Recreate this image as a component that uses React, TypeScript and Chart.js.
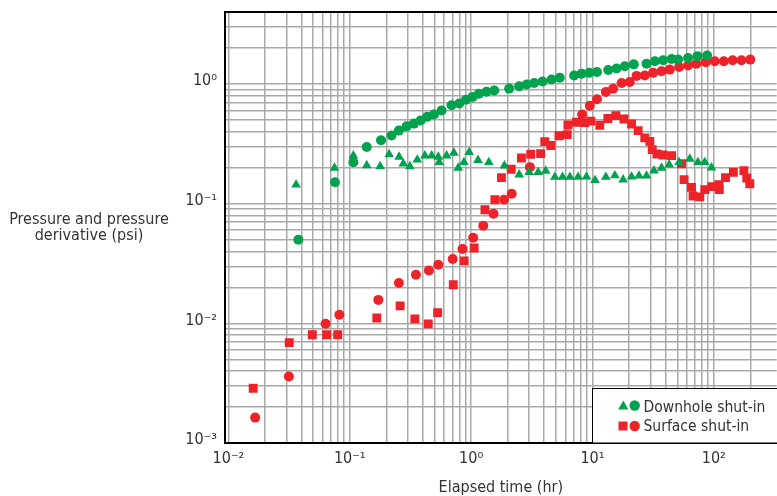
import React, { useEffect, useRef } from 'react';
import { Chart, registerables } from 'chart.js';

Chart.register(...registerables);

// ---- axis ticks ----
const xDecades = [0.01, 0.1, 1, 10, 100];
const xTickLabels = ['10⁻²', '10⁻¹', '10⁰', '10¹', '10²'];
const yDecades = [0.001, 0.01, 0.1, 1];
const yTickLabels = ['10⁻³', '10⁻²', '10⁻¹', '10⁰'];
const minorSteps = [1, 2, 3, 4, 5, 6, 7, 8, 9];

const xTitle = 'Elapsed time (hr)';
const yTitleLines = ['Pressure and pressure', 'derivative (psi)'];
const legendLabels = ['Downhole shut-in', 'Surface shut-in'];

// ---- data: [elapsed time (hr), psi] ----
const downholePressure: [number, number][] = [
  [0.0377, 0.05], [0.0755, 0.151], [0.107, 0.222], [0.138, 0.298], [0.181, 0.339],
  [0.221, 0.371], [0.254, 0.408], [0.294, 0.443], [0.338, 0.467], [0.384, 0.495],
  [0.435, 0.532], [0.494, 0.556], [0.571, 0.6], [0.69, 0.665], [0.798, 0.687],
  [0.906, 0.738], [1.03, 0.781], [1.16, 0.83], [1.34, 0.861], [1.55, 0.883],
  [2.06, 0.916], [2.49, 0.959], [2.87, 0.99], [3.31, 1.02], [3.88, 1.05],
  [4.6, 1.09], [5.38, 1.13], [7.06, 1.18], [8.13, 1.22], [9.4, 1.24],
  [10.9, 1.26], [13.5, 1.31], [15.8, 1.35], [18.5, 1.41], [21.9, 1.46],
  [27.9, 1.48], [32.7, 1.55], [38.2, 1.58], [44.9, 1.62], [50.8, 1.6],
  [61.4, 1.65], [73.4, 1.71], [88.1, 1.73],
];

const downholeDerivative: [number, number][] = [
  [0.0361, 0.144], [0.0748, 0.199], [0.107, 0.252], [0.138, 0.209], [0.178, 0.205],
  [0.211, 0.258], [0.255, 0.246], [0.276, 0.216], [0.313, 0.205], [0.36, 0.233],
  [0.416, 0.252], [0.473, 0.252], [0.536, 0.246], [0.546, 0.222], [0.628, 0.252],
  [0.721, 0.266], [0.783, 0.199], [0.873, 0.222], [0.964, 0.269], [1.14, 0.231],
  [1.4, 0.222], [1.88, 0.208], [2.49, 0.175], [3.01, 0.183], [3.57, 0.183],
  [4.12, 0.188], [4.9, 0.167], [5.67, 0.167], [6.52, 0.167], [7.62, 0.167],
  [8.93, 0.168], [10.5, 0.157], [12.9, 0.167], [15.3, 0.172], [17.9, 0.159],
  [21.0, 0.168], [24.2, 0.171], [27.9, 0.171], [32.1, 0.189], [37.1, 0.199],
  [42.9, 0.212], [51.8, 0.222], [63.4, 0.237], [74.0, 0.222], [84.3, 0.222],
  [95.7, 0.2],
];

const surfacePressure: [number, number][] = [
  [0.0166, 0.00163], [0.0315, 0.00359], [0.0632, 0.00991], [0.0821, 0.0118], [0.172, 0.0157],
  [0.254, 0.0217], [0.351, 0.0255], [0.449, 0.0277], [0.536, 0.0309], [0.705, 0.0345],
  [0.85, 0.0418], [1.04, 0.052], [1.26, 0.0655], [1.53, 0.0824], [1.87, 0.108],
  [2.16, 0.121], [3.05, 0.202], [8.22, 0.556], [9.52, 0.658], [10.9, 0.745],
  [12.9, 0.858], [14.8, 0.912], [17.4, 1.02], [20.3, 1.04], [23.1, 1.17],
  [27.0, 1.18], [31.6, 1.24], [37.1, 1.28], [43.4, 1.32], [51.8, 1.39],
  [61.4, 1.43], [71.9, 1.48], [85.9, 1.52], [102, 1.55], [121, 1.55],
  [143, 1.58], [169, 1.58], [200, 1.6],
];

const surfaceDerivative: [number, number][] = [
  [0.016, 0.00287], [0.0317, 0.0069], [0.0491, 0.00802], [0.0645, 0.00802], [0.0795, 0.00802],
  [0.167, 0.0111], [0.26, 0.014], [0.344, 0.0109], [0.443, 0.0099], [0.53, 0.0123],
  [0.713, 0.021], [0.877, 0.0333], [1.06, 0.0426], [1.3, 0.0891], [1.57, 0.108],
  [1.78, 0.165], [2.14, 0.194], [2.6, 0.241], [3.1, 0.259], [3.74, 0.262],
  [4.05, 0.33], [4.54, 0.306], [5.3, 0.37], [6.2, 0.378], [6.28, 0.455],
  [7.39, 0.479], [8.65, 0.476], [9.7, 0.49], [11.5, 0.452], [13.4, 0.515],
  [15.6, 0.545], [18.2, 0.51], [21.0, 0.463], [23.8, 0.408], [27.0, 0.355],
  [29.7, 0.332], [31.1, 0.283], [34.0, 0.26], [38.2, 0.255], [44.9, 0.252],
  [54.2, 0.216], [56.9, 0.159], [65.5, 0.137], [67.5, 0.116], [76.7, 0.114],
  [84.3, 0.131], [96.2, 0.139], [110, 0.144], [111, 0.131], [125, 0.165],
  [145, 0.183], [177, 0.189], [187, 0.164], [198, 0.147],
];

// ---- styles ----
const GREEN = '#00A24E';
const RED = '#EE2229';
const GRID = '#a9a9a9';
const TEXT = '#333333';
const FONT = '"Liberation Sans Narrow", "Arial Narrow", "DejaVu Sans Condensed", sans-serif';

const X_MIN = 0.00937;
const X_MAX = 330;
const Y_MIN = 0.001;
const Y_MAX = 4.0;

function buildTicks(decades: number[], min: number, max: number) {
  const out: { value: number }[] = [];
  decades.forEach((d) =>
    minorSteps.forEach((m) => {
      const v = +(d * m).toPrecision(6);
      if (v >= min && v < max * 0.9) out.push({ value: v });
    })
  );
  return out;
}

function labelFor(value: number, decades: number[], labels: string[]) {
  const i = decades.findIndex((d) => Math.abs(d - value) / d < 1e-6);
  return i >= 0 ? labels[i] : '';
}

const toPts = (arr: [number, number][]) => arr.map(([x, y]) => ({ x, y }));

const overlayPlugin = {
  id: 'overlay',
  afterDraw(chart: any) {
    const ctx = chart.ctx as CanvasRenderingContext2D;
    const { left, right, top, bottom } = chart.chartArea;
    ctx.save();
    // top frame line
    ctx.strokeStyle = '#000';
    ctx.lineWidth = 2;
    ctx.beginPath();
    ctx.moveTo(left - 1, top);
    ctx.lineTo(right + 6, top);
    ctx.stroke();

    // y title (horizontal, two lines)
    ctx.fillStyle = TEXT;
    ctx.font = `16px ${FONT}`;
    ctx.textAlign = 'center';
    ctx.textBaseline = 'alphabetic';
    yTitleLines.forEach((line, i) => ctx.fillText(line, 89, 224 + i * 16));

    // legend box (runs off the right edge, as in the cropped original)
    const bx = 592.5;
    const by = 388.5;
    ctx.fillStyle = '#fff';
    ctx.fillRect(bx, by, 220, bottom - by);
    ctx.strokeStyle = '#000';
    ctx.lineWidth = 1;
    ctx.strokeRect(bx, by, 220, bottom - by);

    const row1 = 405.5;
    const row2 = 426;
    ctx.fillStyle = GREEN;
    ctx.beginPath();
    ctx.moveTo(623.3, row1 - 5);
    ctx.lineTo(628.5, row1 + 4);
    ctx.lineTo(618.1, row1 + 4);
    ctx.closePath();
    ctx.fill();
    ctx.beginPath();
    ctx.arc(634.7, row1, 5.2, 0, Math.PI * 2);
    ctx.fill();
    ctx.fillStyle = RED;
    ctx.fillRect(618.5, row2 - 4.5, 9, 9);
    ctx.beginPath();
    ctx.arc(634.7, row2, 5.2, 0, Math.PI * 2);
    ctx.fill();

    ctx.fillStyle = TEXT;
    ctx.font = `15.5px ${FONT}`;
    ctx.textAlign = 'left';
    ctx.textBaseline = 'alphabetic';
    ctx.fillText(legendLabels[0], 643.5, 411.5);
    ctx.fillText(legendLabels[1], 643.5, 430.5);
    ctx.restore();
  },
};

export default function App() {
  const ref = useRef<HTMLCanvasElement | null>(null);

  useEffect(() => {
    document.body.style.margin = '0';
    const canvas = ref.current;
    if (!canvas) return;
    const chart = new Chart(canvas, {
      type: 'scatter',
      data: {
        datasets: [
          {
            label: legendLabels[0] + ' pressure',
            data: toPts(downholePressure),
            pointStyle: 'circle',
            pointRadius: 5,
            backgroundColor: GREEN,
            borderWidth: 0,
          },
          {
            label: legendLabels[0] + ' derivative',
            data: toPts(downholeDerivative),
            pointStyle: 'triangle',
            pointRadius: 5.6,
            backgroundColor: GREEN,
            borderWidth: 0,
          },
          {
            label: legendLabels[1] + ' pressure',
            data: toPts(surfacePressure),
            pointStyle: 'circle',
            pointRadius: 5,
            backgroundColor: RED,
            borderWidth: 0,
          },
          {
            label: legendLabels[1] + ' derivative',
            data: toPts(surfaceDerivative),
            pointStyle: 'rect',
            pointRadius: 6.3,
            backgroundColor: RED,
            borderWidth: 0,
          },
        ],
      },
      options: {
        responsive: false,
        animation: false,
        devicePixelRatio: 1,
        layout: { padding: { top: 12, left: 0, right: 0, bottom: 0 } },
        plugins: {
          legend: { display: false },
          tooltip: { enabled: false },
        },
        scales: {
          x: {
            type: 'logarithmic',
            min: X_MIN,
            max: X_MAX,
            afterBuildTicks: (scale: any) => {
              scale.ticks = buildTicks(xDecades, X_MIN, X_MAX);
            },
            afterFit: (scale: any) => {
              scale.height = 53;
              scale.paddingRight = 0;
              scale.paddingLeft = 0;
            },
            grid: { color: GRID, lineWidth: 1.5, drawTicks: false },
            border: { display: true, color: '#000', width: 2 },
            ticks: {
              autoSkip: false,
              maxRotation: 0,
              minRotation: 0,
              padding: 6,
              color: TEXT,
              font: { family: FONT, size: 16 },
              callback: (v: any) => labelFor(Number(v), xDecades, xTickLabels),
            },
            title: {
              display: true,
              text: xTitle,
              color: TEXT,
              font: { family: FONT, size: 16, lineHeight: 1 },
              padding: { top: 0, bottom: 0 },
            },
          },
          y: {
            type: 'logarithmic',
            min: Y_MIN,
            max: Y_MAX,
            afterBuildTicks: (scale: any) => {
              scale.ticks = buildTicks(yDecades, Y_MIN, Y_MAX);
            },
            afterFit: (scale: any) => {
              scale.width = 225;
              scale.paddingTop = 0;
              scale.paddingBottom = 0;
            },
            grid: { color: GRID, lineWidth: 1.5, drawTicks: false },
            border: { display: true, color: '#000', width: 2 },
            ticks: {
              autoSkip: false,
              padding: 8,
              labelOffset: -3,
              color: TEXT,
              font: { family: FONT, size: 16 },
              callback: (v: any) => labelFor(Number(v), yDecades, yTickLabels),
            },
          },
        },
      },
      plugins: [overlayPlugin],
    } as any);
    return () => chart.destroy();
  }, []);

  // The canvas is 6px wider than the window so that the plot area (Chart.js
  // keeps a 6px right inset) runs off the right edge, as in the cropped original.
  return (
    <div style={{ position: 'relative', width: 777, height: 496, background: '#fff', overflow: 'hidden' }}>
      <canvas ref={ref} width={783} height={496} style={{ display: 'block' }} />
    </div>
  );
}
